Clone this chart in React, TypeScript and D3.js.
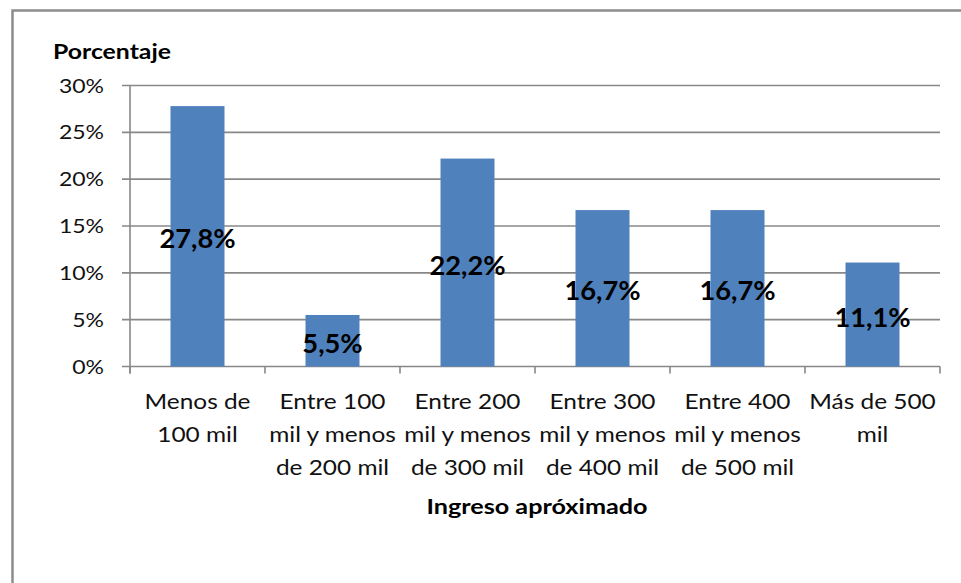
import React from "react";
import * as d3 from "d3";

const categories: string[][] = [
  ["Menos de", "100 mil"],
  ["Entre 100", "mil y menos", "de 200 mil"],
  ["Entre 200", "mil y menos", "de 300 mil"],
  ["Entre 300", "mil y menos", "de 400 mil"],
  ["Entre 400", "mil y menos", "de 500 mil"],
  ["Más de 500", "mil"],
];
const values: number[] = [27.8, 5.5, 22.2, 16.7, 16.7, 11.1];
const valueLabels: string[] = ["27,8%", "5,5%", "22,2%", "16,7%", "16,7%", "11,1%"];
const yTicks: number[] = [0, 5, 10, 15, 20, 25, 30];
const yTitle = "Porcentaje";
const xTitle = "Ingreso apróximado";

const W = 961;
const H = 583;
const FONT = "Lato, 'Open Sans', sans-serif";

function ST(props: { x: number; y: number; sx: number; size: number; bold?: boolean; anchor?: string; fill?: string; children: React.ReactNode }) {
  const { x, y, sx, size, bold, anchor, fill, children } = props;
  return (
    <text
      transform={`translate(${x},${y}) scale(${sx},1)`}
      dy="0.35em"
      textAnchor={anchor || "start"}
      fontFamily={FONT}
      fontWeight={bold ? "bold" : "normal"}
      fontSize={size}
      fill={fill || "#111"}
    >
      {children}
    </text>
  );
}

export default function App() {
  const left = 130, right = 940, top = 85.5, bottom = 366.5;
  const idx = d3.range(categories.length);
  const x = d3.scaleBand<number>().domain(idx).range([left, right]).paddingInner(0.6).paddingOuter(0.3);
  const xb = d3.scaleBand<number>().domain(idx).range([left, right]);
  const y = d3.scaleLinear().domain([0, 30]).range([bottom, top]);
  const gridColor = "#888888";
  return (
    <svg width={W} height={H} style={{ position: "absolute", left: 0, top: 0, background: "#fff" }}>
      <rect x={12.5} y={10.5} width={W + 20} height={H + 20} fill="#fff" stroke="#8c8c8c" strokeWidth={2.5} />
      {yTicks.map((t) => (
        <g key={t}>
          <line x1={left - 8} x2={right} y1={y(t)} y2={y(t)} stroke={gridColor} strokeWidth={1.6} />
          <ST x={104} y={y(t)} sx={1.15} size={20} anchor="end">{t}%</ST>
        </g>
      ))}
      <line x1={left} x2={left} y1={top} y2={bottom + 7} stroke={gridColor} strokeWidth={1.6} />
      {d3.range(categories.length + 1).map((i) => {
        const xx = i < categories.length ? (xb(i) as number) : right;
        return <line key={i} x1={xx} x2={xx} y1={bottom} y2={bottom + 7} stroke={gridColor} strokeWidth={1.6} />;
      })}
      {values.map((v, i) => (
        <rect key={i} x={x(i)} y={y(v)} width={x.bandwidth()} height={bottom - y(v)} fill="#4F81BD" />
      ))}
      {values.map((v, i) => (
        <ST key={i} x={(x(i) as number) + x.bandwidth() / 2} y={(y(v) + bottom) / 2 + 3} sx={1.05} size={26} bold anchor="middle" fill="#000">
          {valueLabels[i]}
        </ST>
      ))}
      {categories.map((lines, i) =>
        lines.map((l, j) => (
          <ST key={i + "-" + j} x={(xb(i) as number) + xb.bandwidth() / 2} y={401 + j * 33} sx={1.11} size={22} anchor="middle">
            {l}
          </ST>
        ))
      )}
      <ST x={53} y={52} sx={1.24} size={20} bold fill="#000">{yTitle}</ST>
      <ST x={537} y={507} sx={1.26} size={20} bold anchor="middle" fill="#000">{xTitle}</ST>
    </svg>
  );
}
